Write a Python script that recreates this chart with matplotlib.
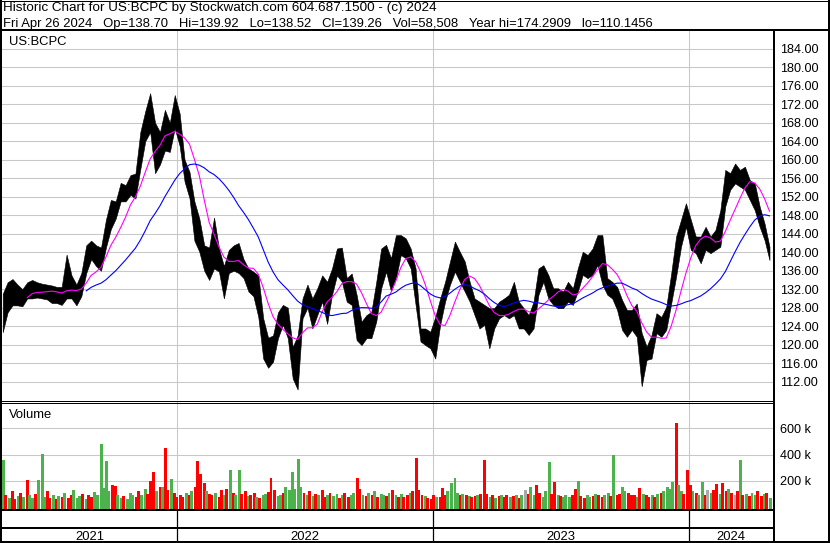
import numpy as np
import pandas as pd
import matplotlib
matplotlib.use("Agg")
import matplotlib.pyplot as plt
from matplotlib.lines import Line2D

plt.rcParams['font.family'] = ['Liberation Sans', 'DejaVu Sans']

# ---------------- data ----------------
header1 = "Historic Chart for US:BCPC by Stockwatch.com 604.687.1500 - (c) 2024"
header2 = ("Fri Apr 26 2024   Op=138.70   Hi=139.92   Lo=138.52   Cl=139.26   "
           "Vol=58,508   Year hi=174.2909   lo=110.1456")
symbol = "US:BCPC"
vol_title = "Volume"

week_start = "2021-04-28"   # weekly samples (Wednesday centres)
week_hi = [131, 133.5, 134.2, 133, 132, 133.5, 134, 133.5, 133.2, 133,
           132.8, 132.5, 132.5, 139.5, 135, 133, 135.5, 141.5, 142.5, 141.5,
           141, 147, 151.3, 151, 155, 154.5, 156.7, 157, 166, 170.5,
           174.4, 168, 166, 170.8, 168, 174, 170, 160, 157.4, 151,
           147.3, 141.5, 141, 147.5, 140.8, 137, 140.5, 141.5, 142, 138.5,
           136.5, 135.8, 135, 125.7, 121.5, 122, 127, 128.6, 128, 119.5,
           122, 130, 133, 130, 132.2, 135, 133.6, 136.5, 140.8, 141,
           134.4, 135.4, 130.8, 125, 126.4, 127.1, 133.6, 140.8, 141.6, 138.7,
           143.7, 143.7, 143, 140.8, 136.5, 123.5, 123.5, 122.8, 126, 130,
           133.6, 138, 142.3, 140.1, 138, 133.6, 130, 129.3, 128.6, 127.9,
           127.9, 129.3, 130, 130.8, 133.6, 129.3, 127.9, 126.4, 129.3, 136.5,
           137.2, 135.1, 132.2, 132.2, 131.5, 133.6, 132.2, 136.5, 140.1, 139.4,
           140.8, 143.7, 143.7, 134.4, 133.6, 132.5, 129.7, 127.5, 127.5, 128.9,
           122.5, 119.6, 122.1, 126.8, 126, 128.2, 135.4, 143.4, 147, 150.6,
           147, 143.4, 143.4, 145.5, 143.4, 144.8, 149.1, 157.8, 157.1, 159.2,
           157.8, 158.5, 155.6, 154.9, 149.9, 146.2, 141.2]
week_lo = [122.7, 127, 128.5, 128.5, 128.3, 130, 130, 130.2, 130, 129.8,
           129, 129, 128.6, 130, 130, 128.5, 130.5, 135.5, 138.5, 137,
           136, 141, 145, 147.3, 151, 151, 152.4, 151.6, 158, 164,
           166, 157.1, 159, 162, 161.7, 166.8, 163, 155.3, 151.7, 142.5,
           140.1, 136, 134, 136.5, 135.8, 130, 135.5, 136, 135.5, 134.4,
           131.5, 130.5, 126, 117, 115, 116.3, 121.4, 124.3, 121.4, 112.7,
           110.3, 125.7, 128, 123.5, 126.4, 129.3, 124.5, 130.8, 135, 133.6,
           129.3, 128.6, 121, 119.9, 121.4, 121.4, 125, 132.2, 135.8, 131.5,
           134.4, 139.4, 138.7, 136.5, 128.6, 120.7, 119.9, 119.2, 117, 124.3,
           129.3, 133, 135.8, 133.6, 131.5, 129.3, 126.4, 123.5, 124.3, 119.2,
           123.5, 125.7, 126.4, 125.7, 126.4, 123.5, 123.5, 122.1, 123.5, 130.8,
           133.6, 130, 128.6, 127.9, 127.9, 129.3, 128.6, 131.5, 135.1, 134.4,
           135.1, 137.2, 133, 130.8, 130, 127.5, 123.2, 121.7, 123.2, 121.7,
           111, 116.7, 117, 122.5, 121.7, 123.2, 128.9, 134.7, 141.2, 145.5,
           140.5, 139.8, 137.6, 140.5, 139.8, 140.5, 141.2, 149.9, 153.5, 154.9,
           154.2, 153.5, 151.3, 149.1, 145.5, 142.6, 138.3]

vol_start = "2021-04-27"     # one volume bar per 3 trading days, thousands of shares
vol_k = [359, 95, 70, 120, 60, 85, 110, 75, 206, 90, 65, 100, 206, 403, 80, 120, 70, 95, 60, 85,
         75, 110, 65, 90, 130, 70, 85, 100, 60, 95, 80, 115, 90, 481, 148, 352, 120, 168, 160, 90,
         70, 85, 60, 110, 95, 75, 120, 90, 140, 100, 200, 265, 120, 150, 155, 453, 130, 214, 110, 80,
         95, 75, 110, 90, 125, 150, 352, 252, 180, 120, 100, 95, 110, 80, 130, 90, 140, 283, 110, 95,
         283, 100, 120, 85, 95, 110, 80, 70, 90, 100, 115, 224, 130, 85, 95, 110, 150, 130, 265, 140,
         367, 150, 110, 95, 120, 85, 100, 90, 130, 80, 95, 110, 85, 100, 70, 90, 105, 80, 95, 110,
         224, 140, 95, 85, 110, 90, 120, 80, 100, 95, 85, 110, 130, 90, 80, 100, 75, 95, 110, 120,
         372, 130, 95, 85, 70, 60, 90, 75, 80, 143, 95, 120, 181, 219, 110, 95, 100, 90, 85, 80,
         85, 90, 100, 359, 100, 80, 90, 70, 85, 95, 75, 90, 80, 85, 95, 70, 90, 130, 100, 155,
         90, 168, 110, 80, 120, 341, 100, 188, 90, 85, 75, 90, 80, 95, 138, 199, 85, 70, 95, 80,
         85, 100, 95, 80, 90, 110, 85, 397, 90, 100, 155, 125, 110, 90, 95, 80, 143, 100, 90, 80,
         90, 75, 100, 110, 120, 150, 140, 188, 640, 168, 120, 100, 283, 168, 120, 110, 90, 188, 95, 130,
         110, 130, 173, 100, 181, 120, 140, 110, 95, 120, 359, 90, 100, 85, 110, 95, 120, 85, 100, 104, 70]
vol_dir = ("grgrrgrgrggrgggrrgrg" "rgrrgggrgrrggggggrrg" "grgggrrggrrrgrgrrgrr"
           "rrgrgrrrrgrrgrrgrgrg" "grrgrrgrggrrrggrgggg" "ggrgrgrgrrgrggrgrrgg"
           "rrgrgrgrggrgrgrgrrgr" "rrrgrrrgrrrggggrgrgr" "rgrrrgrgrgrrgrgrgyrg"
           "grrgggrrgrgggrrgrrgg" "rgrrggrgrrggrrrgrgrr" "grgrggggrggrrrgrggry"
           "grrgrrgryrgrgrggrrgrg")

price_ticks = list(range(112, 185, 4))
vol_ticks = [200, 400, 600]
years = [2021, 2022, 2023, 2024]
ma_short_n, ma_long_n = 6, 18   # weeks

# ---------------- figure ----------------
W, H = 830, 543
fig = plt.figure(figsize=(W / 100, H / 100), dpi=100)
fig.patch.set_facecolor('white')


def rect(x0, y0, x1, y1):
    return [x0 / W, 1 - y1 / H, (x1 - x0) / W, (y1 - y0) / H]


def fline(xs, ys, lw=1.0, color='black'):
    fig.add_artist(Line2D([x / W for x in xs], [1 - y / H for y in ys],
                          transform=fig.transFigure, color=color, lw=lw * 0.72,
                          solid_capstyle='butt', antialiased=False))


x0 = pd.Timestamp("2021-04-27")
x1 = pd.Timestamp("2024-04-29")
grid_c = '#c8c8c8'
fs = 9.4
fs_h1 = 9.7
fs_tick = 9.1

wk_dates = pd.date_range(week_start, periods=len(week_hi), freq='7D')
hi = np.array(week_hi)
lo = np.array(week_lo)
mid = pd.Series((hi + lo) / 2.0)
ma_s = mid.rolling(ma_short_n).mean()
ma_l = mid.rolling(ma_long_n).mean()

# price panel
ax_p = fig.add_axes(rect(2, 31, 773, 400))
ax_p.set_xlim(x0, x1)
ax_p.set_ylim(108.03, 187.86)
for s in ax_p.spines.values():
    s.set_visible(False)
ax_p.set_xticks([])
ax_p.yaxis.tick_right()
ax_p.set_yticks(price_ticks)
ax_p.set_yticklabels([f"{v:.2f}" for v in price_ticks])
ax_p.tick_params(axis='y', length=0, pad=5, labelsize=fs_tick)
ax_p.grid(axis='y', color=grid_c, lw=0.75)
ax_p.set_axisbelow(True)
for yr in years[1:]:
    ax_p.axvline(pd.Timestamp(f"{yr}-01-01"), color=grid_c, lw=0.75, zorder=0)
ax_p.fill_between(wk_dates, lo, hi, color='black', lw=0.4, zorder=2)
ax_p.plot(wk_dates, ma_s, color='#ff00ff', lw=0.8, zorder=3)
ax_p.plot(wk_dates, ma_l, color='#0000ff', lw=0.8, zorder=3)

# volume panel
vdates = pd.date_range(vol_start, periods=len(vol_k), freq='3B')
vcol = {'r': '#ff0000', 'g': '#4cb24c', 'y': '#a8a8a8'}
vbottom = -19000
ax_v = fig.add_axes(rect(2, 402, 773, 509.5))
ax_v.set_xlim(x0, x1)
ax_v.set_ylim(vbottom, 801000)
for s in ax_v.spines.values():
    s.set_visible(False)
ax_v.set_xticks([])
ax_v.yaxis.tick_right()
ax_v.set_yticks([v * 1000 for v in vol_ticks])
ax_v.set_yticklabels([f"{v} k" for v in vol_ticks])
ax_v.tick_params(axis='y', length=0, pad=5, labelsize=fs_tick)
ax_v.grid(axis='y', color=grid_c, lw=0.75)
ax_v.set_axisbelow(True)
for yr in years[1:]:
    ax_v.axvline(pd.Timestamp(f"{yr}-01-01"), color=grid_c, lw=0.75, zorder=0)
ax_v.bar(vdates, np.array(vol_k) * 1000.0 - vbottom, bottom=vbottom, width=4.2,
         align='edge', color=[vcol[c] for c in vol_dir], linewidth=0, zorder=2,
         antialiased=False)

# date strip
ax_b = fig.add_axes(rect(2, 509.5, 773, 542))
ax_b.set_xlim(x0, x1)
ax_b.set_ylim(0, 1)
ax_b.axis('off')
for yr in years[1:]:
    ax_b.axvline(pd.Timestamp(f"{yr}-01-01"), color='black', lw=0.9)
for yr in years:
    a = max(pd.Timestamp(f"{yr}-01-01"), x0)
    b = min(pd.Timestamp(f"{yr + 1}-01-01"), x1)
    ax_b.text(a + (b - a) / 2, (542 - 539.5) / (542 - 509.5), str(yr), ha='center',
              va='baseline', fontsize=fs)

# texts
fig.text(3 / W, 1 - 11 / H, header1, fontsize=fs_h1, va='baseline', ha='left')
fig.text(3 / W, 1 - 26.7 / H, header2, fontsize=fs, va='baseline', ha='left')
fig.text(9 / W, 1 - 45 / H, symbol, fontsize=fs, va='baseline', ha='left')
fig.text(9 / W, 1 - 417.5 / H, vol_title, fontsize=fs, va='baseline', ha='left')

# frame lines
fline([0, 830], [0.5, 0.5], lw=1)
fline([0, 830], [30, 30], lw=2)
fline([1, 1], [0, 543], lw=2)
fline([829, 829], [0, 543], lw=2)
fline([774, 774], [30, 543], lw=2)
fline([0, 774], [400.5, 400.5], lw=1)
fline([0, 774], [402.5, 402.5], lw=1)
fline([0, 774], [510, 510], lw=1.5)
fline([0, 774], [527.5, 527.5], lw=1.5)
fline([0, 830], [542, 542], lw=2)

fig.savefig("out.png", dpi=100, facecolor='white')
